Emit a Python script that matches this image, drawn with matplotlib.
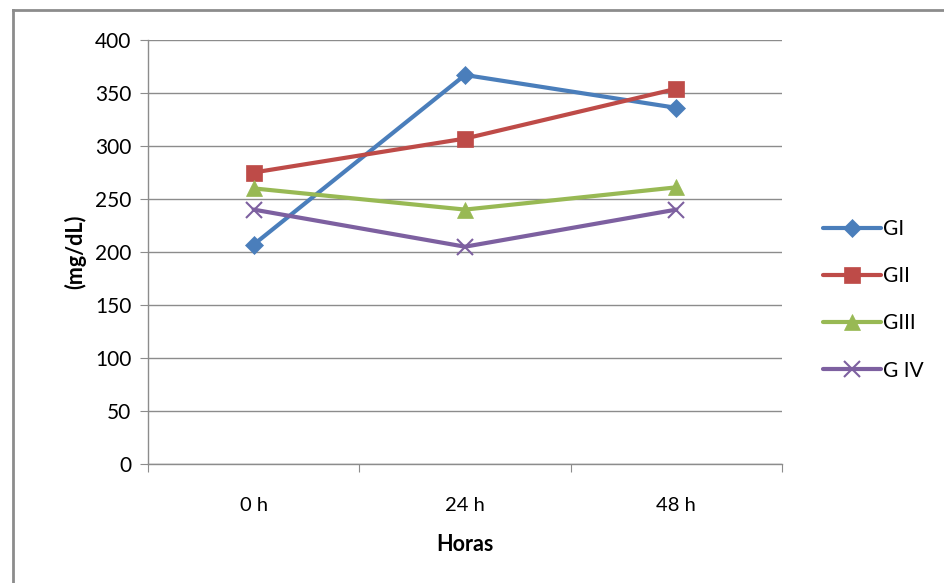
import matplotlib
matplotlib.use("Agg")
import matplotlib.pyplot as plt
from matplotlib.lines import Line2D

# Data
hours = ["0 h", "24 h", "48 h"]
g1 = [207, 367, 336]
g2 = [275, 307, 354]
g3 = [260, 240, 261]
g4 = [240, 205, 240]
series_names = ["GI", "GII", "GIII", "G IV"]
y_ticks = [0, 50, 100, 150, 200, 250, 300, 350, 400]

colors = ["#4A7EBB", "#BE4B48", "#98B954", "#7D60A0"]
markers = ["D", "s", "^", "x"]
msizes = [9, 12, 11, 11]

plt.rcParams["font.family"] = ["Lato", "DejaVu Sans"]

W, H = 944, 583
fig = plt.figure(figsize=(W / 100, H / 100), dpi=100)
fig.patch.set_facecolor("white")

# outer chart frame (left and top edges)
fig.add_artist(Line2D([13 / W, 13 / W], [0, 1 - 10 / H], transform=fig.transFigure,
                      color="#8c8c8c", lw=2))
fig.add_artist(Line2D([13 / W, 1], [1 - 10 / H, 1 - 10 / H], transform=fig.transFigure,
                      color="#8c8c8c", lw=2))

left, right, top, bottom = 148, 782, 40, 464
ax = fig.add_axes([left / W, 1 - bottom / H, (right - left) / W, (bottom - top) / H])

x = list(range(len(hours)))
for vals, name, c, m, ms in zip([g1, g2, g3, g4], series_names, colors, markers, msizes):
    ax.plot(x, vals, color=c, lw=3, marker=m, markersize=ms,
            markeredgewidth=1.5 if m == "x" else 0.5,
            markeredgecolor=c, markerfacecolor=c, label=name, zorder=3,
            solid_joinstyle="round", solid_capstyle="round")

ax.set_xlim(-0.5, 2.5)
ax.set_ylim(0, 400)
ax.set_yticks(y_ticks)
ax.yaxis.grid(True, color="#8c8c8c", lw=1)
ax.set_axisbelow(True)

ax.set_xticks([-0.5, 0.5, 1.5, 2.5])
ax.set_xticklabels([])
ax.set_xticks(x, minor=True)
ax.set_xticklabels(hours, minor=True)
ax.tick_params(axis="x", which="major", length=6, color="#8c8c8c", direction="out")
ax.tick_params(axis="x", which="minor", length=0, pad=24, labelsize=14.5)
ax.tick_params(axis="y", length=6, color="#8c8c8c", labelsize=15, pad=6)

for s in ["top", "right"]:
    ax.spines[s].set_visible(False)
for s in ["left", "bottom"]:
    ax.spines[s].set_color("#8c8c8c")
    ax.spines[s].set_linewidth(1)

ax.set_xlabel("Horas", fontsize=15.5, fontweight="bold", labelpad=14)
ax.set_ylabel("(mg/dL)", fontsize=15.5, fontweight="bold", labelpad=6)

leg = ax.legend(loc="center left", bbox_to_anchor=(1.035, 0.387), frameon=False,
                fontsize=15, handlelength=2.8, handletextpad=0.1, labelspacing=1.3)

fig.savefig("out.png", dpi=100, facecolor="white")
